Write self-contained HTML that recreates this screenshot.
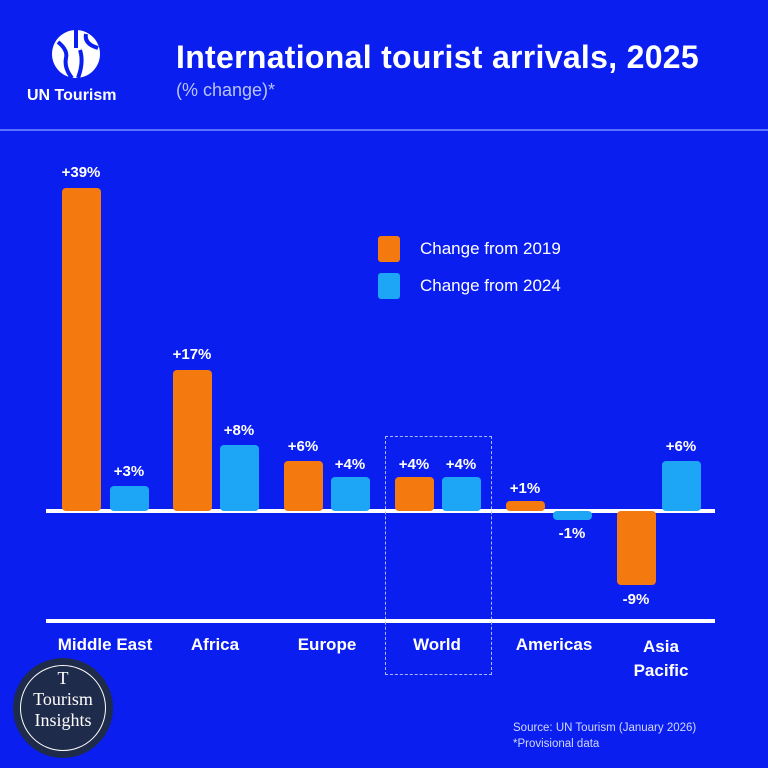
<!DOCTYPE html>
<html><head><style>
body{margin:0;width:768px;height:768px;background:#0b1ef0;font-family:"Liberation Sans",sans-serif;color:#fff;position:relative;overflow:hidden}
.a{position:absolute}
.o{position:absolute;background:#f47a10;border-radius:4px}
.b{position:absolute;background:#1ea6f6;border-radius:4px}
.l{position:absolute;font-weight:bold;font-size:15px;width:60px;text-align:center}
.c{position:absolute;font-weight:bold;font-size:17px;text-align:center;width:120px}
</style></head><body>
<svg class="a" style="left:50px;top:28px" width="52" height="52" viewBox="0 0 52 52"><circle cx="26" cy="26" r="24" fill="#fff"/><path d="M26 2 V20 M8 14 Q18 22 16 30 Q14 40 22 50 M30 22 Q34 34 28 50 M36 6 Q34 16 48 20" stroke="#0b1ef0" stroke-width="4" fill="none"/></svg>
<div class="a" style="left:27px;top:87px;font-size:16px;font-weight:bold">UN Tourism</div>
<div class="a" style="left:176px;top:39px;font-size:32px;font-weight:bold;letter-spacing:0.3px">International tourist arrivals, 2025</div>
<div class="a" style="left:176px;top:80px;font-size:18px;color:#b7c3ff">(% change)*</div>
<div class="a" style="left:0;top:129px;width:768px;height:2px;background:#5a73ff"></div>
<div class="a" style="left:46px;top:509px;width:669px;height:4px;background:#fff"></div>
<div class="a" style="left:46px;top:619px;width:669px;height:4px;background:#fff"></div>
<div class="a" style="left:385px;top:436px;width:105px;height:237px;border:1px dashed #aab8ff"></div>
<div class="o" style="left:62px;top:188px;width:39px;height:323px"></div>
<div class="b" style="left:110px;top:486px;width:39px;height:25px"></div>
<div class="o" style="left:173px;top:370px;width:39px;height:141px"></div>
<div class="b" style="left:220px;top:445px;width:39px;height:66px"></div>
<div class="o" style="left:284px;top:461px;width:39px;height:50px"></div>
<div class="b" style="left:331px;top:477px;width:39px;height:34px"></div>
<div class="o" style="left:395px;top:477px;width:39px;height:34px"></div>
<div class="b" style="left:442px;top:477px;width:39px;height:34px"></div>
<div class="o" style="left:506px;top:501px;width:39px;height:10px"></div>
<div class="b" style="left:553px;top:511px;width:39px;height:9px"></div>
<div class="o" style="left:617px;top:511px;width:39px;height:74px"></div>
<div class="b" style="left:662px;top:461px;width:39px;height:50px"></div>
<div class="l" style="left:51px;top:164px">+39%</div>
<div class="l" style="left:99px;top:463px">+3%</div>
<div class="l" style="left:162px;top:346px">+17%</div>
<div class="l" style="left:209px;top:422px">+8%</div>
<div class="l" style="left:273px;top:438px">+6%</div>
<div class="l" style="left:320px;top:456px">+4%</div>
<div class="l" style="left:384px;top:456px">+4%</div>
<div class="l" style="left:431px;top:456px">+4%</div>
<div class="l" style="left:495px;top:480px">+1%</div>
<div class="l" style="left:542px;top:525px">-1%</div>
<div class="l" style="left:606px;top:591px">-9%</div>
<div class="l" style="left:651px;top:438px">+6%</div>
<div class="b" style="left:378px;top:236px;width:22px;height:26px;background:#f47a10;border-radius:3px"></div>
<div class="b" style="left:378px;top:273px;width:22px;height:26px;border-radius:3px"></div>
<div class="a" style="left:420px;top:239px;font-size:17px">Change from 2019</div>
<div class="a" style="left:420px;top:276px;font-size:17px">Change from 2024</div>
<div class="c" style="left:45px;top:635px">Middle East</div>
<div class="c" style="left:155px;top:635px">Africa</div>
<div class="c" style="left:267px;top:635px">Europe</div>
<div class="c" style="left:377px;top:635px">World</div>
<div class="c" style="left:494px;top:635px">Americas</div>
<div class="c" style="left:601px;top:635px;line-height:24px">Asia<br>Pacific</div>
<div class="a" style="left:513px;top:720px;font-size:11.5px;color:#d0d8ff;line-height:16px">Source: UN Tourism (January 2026)<br>*Provisional data</div>
<div class="a" style="left:13px;top:658px;width:100px;height:100px;border-radius:50%;background:#1f2b4a"></div>
<div class="a" style="left:20px;top:665px;width:84px;height:84px;border-radius:50%;border:1.5px solid #fff"></div>
<div class="a" style="left:13px;top:668px;width:100px;text-align:center;font-family:'Liberation Serif',serif;font-size:18px;line-height:21px">T<br>Tourism<br>Insights</div>
</body></html>
